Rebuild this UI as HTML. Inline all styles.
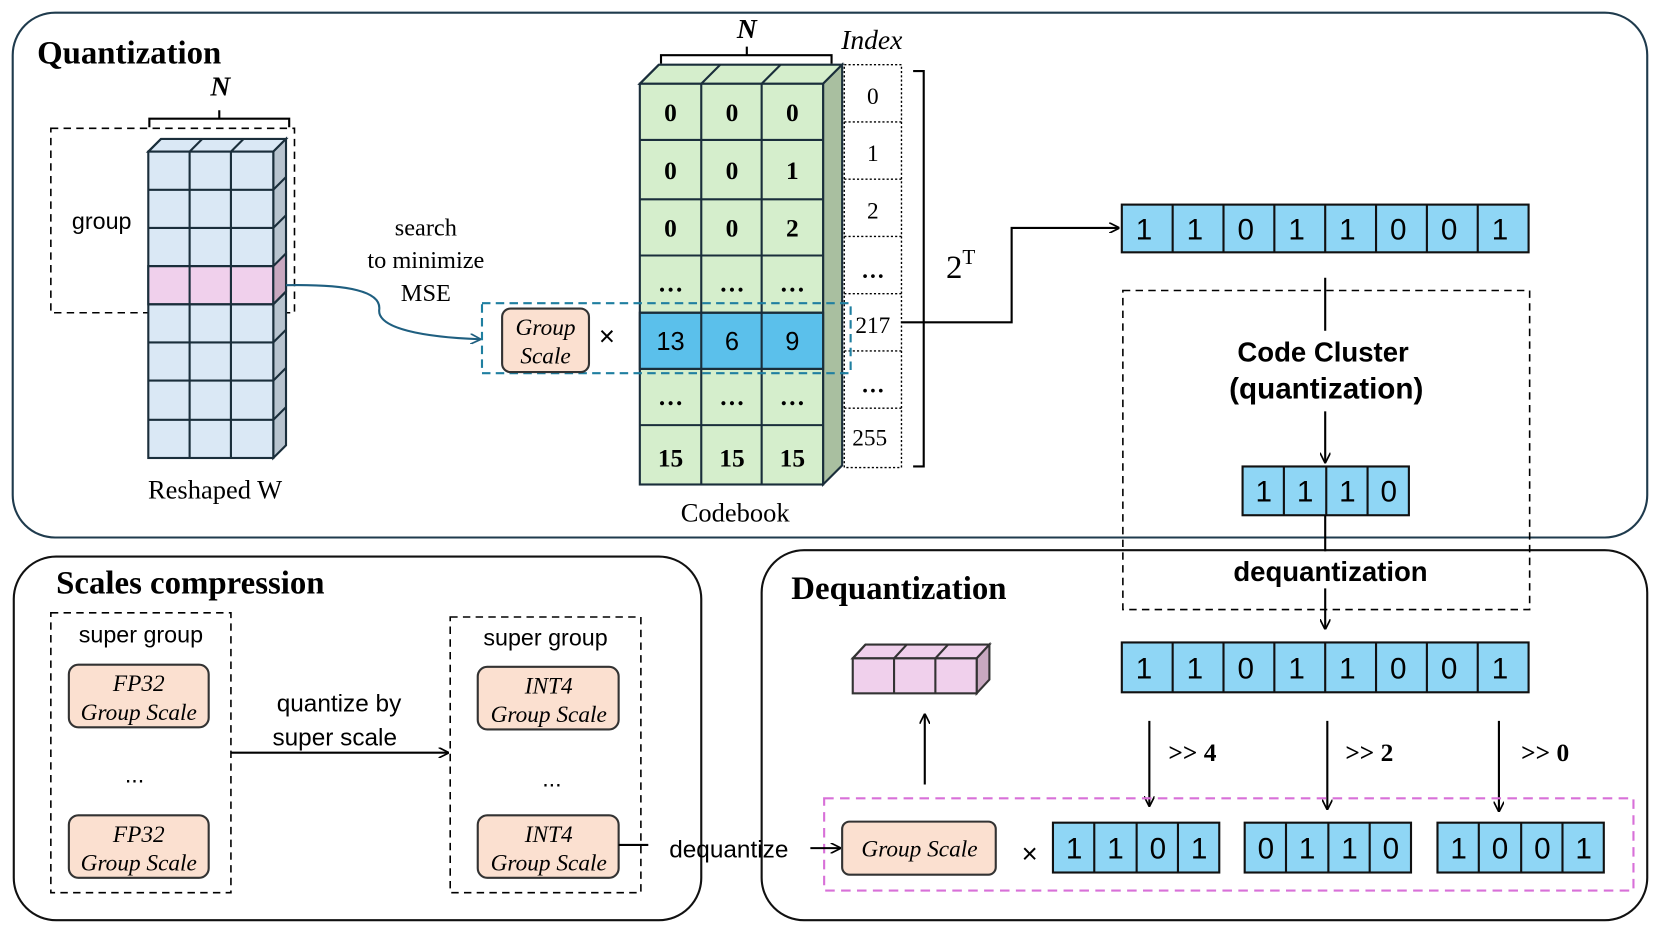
<!DOCTYPE html>
<html><head><meta charset="utf-8"><style>body{margin:0;background:#fff}svg{display:block}</style></head><body>
<svg width="1661" height="934" viewBox="0 0 1568 881" preserveAspectRatio="none" xmlns="http://www.w3.org/2000/svg">
<defs>
<marker id="a" markerWidth="10" markerHeight="10" refX="9" refY="5" orient="auto" markerUnits="userSpaceOnUse"><path d="M0,0 L10,5 L0,10" fill="none" stroke="#000" stroke-width="1.6"/></marker>
<marker id="ab" markerWidth="10" markerHeight="10" refX="9" refY="5" orient="auto" markerUnits="userSpaceOnUse"><path d="M0,0 L10,5 L0,10" fill="none" stroke="#1f5f80" stroke-width="1.6"/></marker>
</defs>
<g fill="none" stroke="#111" stroke-width="2">
<rect x="12" y="12" width="1543" height="495" rx="40" stroke="#1f3b4d"/>
<rect x="13" y="525" width="649" height="343" rx="40"/>
<rect x="719" y="519" width="836" height="349" rx="40"/>
</g>
<g font-family="Liberation Serif, serif" font-weight="bold" font-size="31" fill="#000">
<text x="35" y="60">Quantization</text>
<text x="53" y="560">Scales compression</text>
<text x="747" y="565">Dequantization</text>
</g>
<!-- Reshaped W -->
<text x="208" y="90" font-family="Liberation Serif,serif" font-style="italic" font-weight="bold" font-size="26" text-anchor="middle">N</text>
<path d="M141,120 V112 H273 V120 M207,112 V104" fill="none" stroke="#000" stroke-width="2"/>
<rect x="48" y="121" width="230" height="174" fill="none" stroke="#000" stroke-width="1.5" stroke-dasharray="7,5"/>
<text x="96" y="216" font-family="Liberation Sans,sans-serif" font-size="22" text-anchor="middle">group</text>
<g stroke="#1a2e3b" stroke-width="2">
<path d="M140,143 L152,131 H270 L258,143 Z" fill="#dae8f5"/>
<path d="M258,143 L270,131 V420 L258,432 Z" fill="#b8c4cf"/>
<rect x="140" y="143" width="118" height="289" fill="#dae8f5"/>
<rect x="140" y="251" width="118" height="36" fill="#f0d0ec"/>
<path d="M258,251 L270,239 V275 L258,287 Z" fill="#c8a8c0"/>
<path d="M179,143 V432 M218,143 V432 M140,179 H258 M140,215 H258 M140,251 H258 M140,287 H258 M140,323 H258 M140,359 H258 M140,396 H258 M152,131 L140,143 M191,131 L179,143 M230,131 L218,143 M270,167 L258,179 M270,203 L258,215 M270,275 L258,287 M270,311 L258,323 M270,347 L258,359 M270,384 L258,396" fill="none"/>
</g>
<text x="203" y="470" font-family="Liberation Serif,serif" font-size="25" text-anchor="middle">Reshaped W</text>
<path d="M270,269 C330,268 360,275 358,292 C356,310 400,318 453,320" fill="none" stroke="#1f5f80" stroke-width="2" marker-end="url(#ab)"/>
<g font-family="Liberation Serif,serif" font-size="23" text-anchor="middle"><text x="402" y="222">search</text><text x="402" y="253">to minimize</text><text x="402" y="284">MSE</text></g>
<!-- Codebook -->
<text x="705" y="36" font-family="Liberation Serif,serif" font-style="italic" font-weight="bold" font-size="26" text-anchor="middle">N</text>
<path d="M624,60 V52 H785 V60 M705,52 V44" fill="none" stroke="#000" stroke-width="2"/>
<text x="823" y="46" font-family="Liberation Serif,serif" font-style="italic" font-size="26" text-anchor="middle">Index</text>
<g stroke="#1a2e3b" stroke-width="2">
<path d="M604,79 L622,61 H795 L777,79 Z" fill="#d5eecc"/>
<path d="M777,79 L795,61 V439 L777,457 Z" fill="#a9bfa0"/>
<rect x="604" y="79" width="173" height="378" fill="#d5eecc"/>
<rect x="604" y="295" width="173" height="53" fill="#5bc0eb"/>
<path d="M662,79 V457 M719,79 V457 M604,132 H777 M604,188 H777 M604,241 H777 M604,295 H777 M604,348 H777 M604,401 H777 M622,61 L604,79 M680,61 L662,79 M737,61 L719,79" fill="none"/>
</g>
<g font-family="Liberation Serif,serif" font-weight="bold" font-size="24" text-anchor="middle">
<text x="633" y="114">0</text><text x="691" y="114">0</text><text x="748" y="114">0</text>
<text x="633" y="169">0</text><text x="691" y="169">0</text><text x="748" y="169">1</text>
<text x="633" y="223">0</text><text x="691" y="223">0</text><text x="748" y="223">2</text>
<text x="633" y="275">…</text><text x="691" y="275">…</text><text x="748" y="275">…</text>
<text x="633" y="382">…</text><text x="691" y="382">…</text><text x="748" y="382">…</text>
<text x="633" y="440">15</text><text x="691" y="440">15</text><text x="748" y="440">15</text>
</g>
<g font-family="Liberation Sans,sans-serif" font-size="24" text-anchor="middle"><text x="633" y="330">13</text><text x="691" y="330">6</text><text x="748" y="330">9</text></g>
<text x="694" y="492" font-family="Liberation Serif,serif" font-size="25" text-anchor="middle">Codebook</text>
<g fill="none" stroke="#000" stroke-width="1.3" stroke-dasharray="2,2">
<rect x="797" y="61" width="54" height="380"/>
<path d="M797,115 H851 M797,169 H851 M797,223 H851 M797,277 H851 M797,331 H851 M797,385 H851"/>
</g>
<g font-family="Liberation Serif,serif" font-size="22" text-anchor="middle">
<text x="824" y="98">0</text><text x="824" y="152">1</text><text x="824" y="206">2</text><text x="824" y="262" font-weight="bold">…</text><text x="824" y="314">217</text><text x="824" y="370" font-weight="bold">…</text><text x="821" y="420">255</text>
</g>
<path d="M862,67 H872 V440 H862" fill="none" stroke="#000" stroke-width="2"/>
<text x="893" y="262" font-family="Liberation Serif,serif" font-size="31">2<tspan dy="-13" font-size="20">T</tspan></text>
<rect x="455" y="286" width="348" height="66" fill="none" stroke="#1f7fa0" stroke-width="2" stroke-dasharray="8,5"/>
<rect x="474" y="291" width="82" height="60" rx="8" fill="#fbe0d0" stroke="#333" stroke-width="2"/>
<g font-family="Liberation Serif,serif" font-style="italic" font-size="22" text-anchor="middle"><text x="515" y="316">Group</text><text x="515" y="343">Scale</text></g>
<text x="573" y="326" font-family="Liberation Sans,sans-serif" font-size="26" text-anchor="middle">×</text>
<path d="M851,304 H955 V215 H1056" fill="none" stroke="#000" stroke-width="2" marker-end="url(#a)"/>
<!-- bits -->
<g stroke="#111" stroke-width="2" fill="#8fd6f5">
<rect x="1059" y="193" width="384" height="45"/>
<rect x="1173" y="440" width="157" height="46"/>
<rect x="1059" y="606" width="384" height="47"/>
<rect x="994" y="776" width="157" height="47"/>
<rect x="1175" y="776" width="157" height="47"/>
<rect x="1357" y="776" width="157" height="47"/>
<path fill="none" d="M1107,193 V238 M1155,193 V238 M1203,193 V238 M1251,193 V238 M1299,193 V238 M1347,193 V238 M1395,193 V238 M1107,606 V653 M1155,606 V653 M1203,606 V653 M1251,606 V653 M1299,606 V653 M1347,606 V653 M1395,606 V653 M1212,440 V486 M1252,440 V486 M1291,440 V486 M1033,776 V823 M1073,776 V823 M1112,776 V823 M1214,776 V823 M1254,776 V823 M1293,776 V823 M1396,776 V823 M1436,776 V823 M1475,776 V823"/>
</g>
<g font-family="Liberation Sans,sans-serif" font-size="28" text-anchor="middle">
<text x="1080" y="226">1</text><text x="1128" y="226">1</text><text x="1176" y="226">0</text><text x="1224" y="226">1</text><text x="1272" y="226">1</text><text x="1320" y="226">0</text><text x="1368" y="226">0</text><text x="1416" y="226">1</text>
<text x="1080" y="640">1</text><text x="1128" y="640">1</text><text x="1176" y="640">0</text><text x="1224" y="640">1</text><text x="1272" y="640">1</text><text x="1320" y="640">0</text><text x="1368" y="640">0</text><text x="1416" y="640">1</text>
<text x="1193" y="473">1</text><text x="1232" y="473">1</text><text x="1272" y="473">1</text><text x="1311" y="473">0</text>
<text x="1014" y="810">1</text><text x="1053" y="810">1</text><text x="1093" y="810">0</text><text x="1132" y="810">1</text>
<text x="1195" y="810">0</text><text x="1234" y="810">1</text><text x="1274" y="810">1</text><text x="1313" y="810">0</text>
<text x="1377" y="810">1</text><text x="1416" y="810">0</text><text x="1456" y="810">0</text><text x="1495" y="810">1</text>
</g>
<rect x="1060" y="274" width="384" height="301" fill="none" stroke="#000" stroke-width="1.5" stroke-dasharray="7,5"/>
<g fill="none" stroke="#000" stroke-width="2">
<path d="M1251,262 V312"/>
<path d="M1251,388 V436" marker-end="url(#a)"/>
<path d="M1251,486 V520"/>
<path d="M1251,555 V593" marker-end="url(#a)"/>
<path d="M1085,680 V760" marker-end="url(#a)"/>
<path d="M1253,680 V763" marker-end="url(#a)"/>
<path d="M1415,680 V765" marker-end="url(#a)"/>
<path d="M873,740 V674" marker-end="url(#a)"/>
</g>
<g font-family="Liberation Sans,sans-serif" font-weight="bold" font-size="26" text-anchor="middle">
<text x="1249" y="341">Code Cluster</text><text x="1252" y="376" font-size="28">(quantization)</text><text x="1256" y="548">dequantization</text>
</g>
<g font-family="Liberation Serif,serif" font-weight="bold" font-size="24">
<text x="1103" y="718">&gt;&gt;  4</text><text x="1270" y="718">&gt;&gt;  2</text><text x="1436" y="718">&gt;&gt;  0</text>
</g>
<!-- Dequantization -->
<rect x="778" y="753" width="764" height="87" fill="none" stroke="#d870d8" stroke-width="2" stroke-dasharray="9,6"/>
<rect x="795" y="775" width="145" height="50" rx="7" fill="#fbe0d0" stroke="#333" stroke-width="2"/>
<text x="868" y="808" font-family="Liberation Serif,serif" font-style="italic" font-size="22" text-anchor="middle">Group Scale</text>
<text x="972" y="814" font-family="Liberation Sans,sans-serif" font-size="26" text-anchor="middle">×</text>
<g stroke="#333" stroke-width="2">
<path d="M805,621 L817,608 H934 L922,621 Z" fill="#f0d0ec"/>
<path d="M922,621 L934,608 V641 L922,654 Z" fill="#c8a8c0"/>
<rect x="805" y="621" width="117" height="33" fill="#f0d0ec"/>
<path d="M844,621 V654 M883,621 V654 M817,608 L805,621 M856,608 L844,621 M895,608 L883,621" fill="none"/>
</g>
<!-- Scales compression -->
<g fill="none" stroke="#000" stroke-width="1.5" stroke-dasharray="7,5">
<rect x="48" y="578" width="170" height="264"/><rect x="425" y="582" width="180" height="260"/>
</g>
<g font-family="Liberation Sans,sans-serif" font-size="22" text-anchor="middle"><text x="133" y="606">super group</text><text x="515" y="609">super group</text><text x="127" y="738">...</text><text x="521" y="742">...</text></g>
<g fill="#fbe0d0" stroke="#333" stroke-width="2">
<rect x="65" y="627" width="132" height="59" rx="9"/><rect x="65" y="769" width="132" height="59" rx="9"/>
<rect x="451" y="629" width="133" height="59" rx="9"/><rect x="451" y="769" width="133" height="59" rx="9"/>
</g>
<g font-family="Liberation Serif,serif" font-style="italic" font-size="22" text-anchor="middle">
<text x="131" y="652">FP32</text><text x="131" y="679">Group Scale</text>
<text x="131" y="794">FP32</text><text x="131" y="821">Group Scale</text>
<text x="518" y="654">INT4</text><text x="518" y="681">Group Scale</text>
<text x="518" y="794">INT4</text><text x="518" y="821">Group Scale</text>
</g>
<path d="M218,710 H423" fill="none" stroke="#000" stroke-width="2" marker-end="url(#a)"/>
<g font-family="Liberation Sans,sans-serif" font-size="23" text-anchor="middle"><text x="320" y="671">quantize by</text><text x="316" y="703">super scale</text><text x="688" y="809">dequantize</text></g>
<path d="M584,797 H612" fill="none" stroke="#000" stroke-width="2"/>
<path d="M765,800 H793" fill="none" stroke="#000" stroke-width="2" marker-end="url(#a)"/>
</svg>
</body></html>
